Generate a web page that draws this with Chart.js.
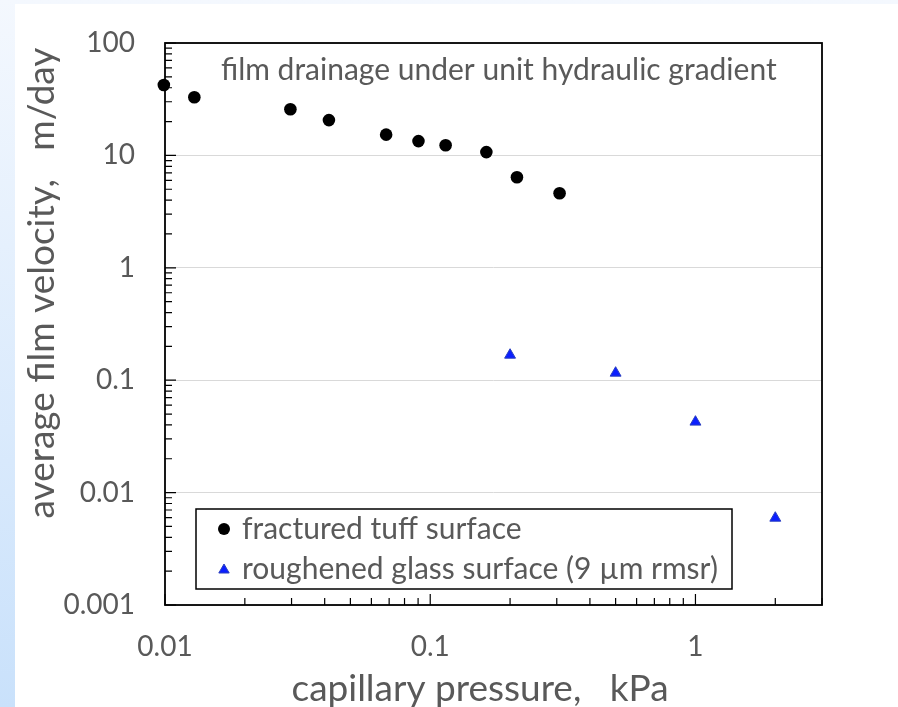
<!DOCTYPE html>
<html>
<head>
<meta charset="utf-8">
<script src="https://cdn.jsdelivr.net/npm/chart.js@4.4.1/dist/chart.umd.min.js"></script>
<style>
  html, body { margin: 0; padding: 0; }
  body {
    width: 898px; height: 707px; position: relative; overflow: hidden;
    background: linear-gradient(to bottom, #f4f8fe 0%, #c9e1fb 100%);
  }
  #panel { position: absolute; left: 15px; top: 4px; right: 0; bottom: 0; background: #fff; }
  #chart { position: absolute; left: 0; top: 0; }
</style>
</head>
<body>
<div id="panel"></div>
<canvas id="chart" width="898" height="707"></canvas>
<script>
// fractured tuff surface: capillary pressure (kPa) vs average film velocity (m/day)
const tuffPressure = [0.0099, 0.0129, 0.0297, 0.0415, 0.0682, 0.0903, 0.1143, 0.1628, 0.2123, 0.3074];
const tuffVelocity = [42.3, 32.9, 25.7, 20.6, 15.3, 13.4, 12.3, 10.7, 6.40, 4.61];

// roughened glass surface (9 µm rmsr)
const glassPressure = [0.2, 0.5, 1, 2];
const glassVelocity = [0.1675, 0.1159, 0.0425, 0.00594];

const seriesNames = ["fractured tuff surface", "roughened glass surface (9 µm rmsr)"];

const xTicks = [0.01, 0.1, 1];
const xTickLabels = ["0.01", "0.1", "1"];
const yTicks = [0.001, 0.01, 0.1, 1, 10, 100];
const yTickLabels = ["0.001", "0.01", "0.1", "1", "10", "100"];

const xTitle = "capillary pressure,   kPa";
const yTitle = "average film velocity,   m/day";
const note = "film drainage under unit hydraulic gradient";

const FONT = "Lato, 'Open Sans', sans-serif";
const TEXT = "#595959";

// box round the plot plus inward log ticks on the left and bottom axes
const frameTicks = {
  id: "frameTicks",
  beforeDatasetsDraw(chart) {
    const { ctx, chartArea: a, scales } = chart;
    ctx.save();
    ctx.strokeStyle = "#000";
    ctx.lineWidth = 1.2;
    const logTicks = (scale, draw) => {
      const lo = Math.floor(Math.log10(scale.min));
      const hi = Math.ceil(Math.log10(scale.max));
      for (let d = lo; d <= hi; d++) {
        for (let k = 1; k <= 9; k++) {
          const v = k * Math.pow(10, d);
          if (v < scale.min * 0.999 || v > scale.max * 1.001) continue;
          draw(scale.getPixelForValue(v), k === 1 ? 11 : 7);
        }
      }
    };
    ctx.beginPath();
    logTicks(scales.y, (p, len) => { ctx.moveTo(a.left, p); ctx.lineTo(a.left + len, p); });
    logTicks(scales.x, (p, len) => { ctx.moveTo(p, a.bottom); ctx.lineTo(p, a.bottom - len); });
    ctx.stroke();
    ctx.lineWidth = 1.8;
    ctx.strokeRect(a.left, a.top, a.right - a.left, a.bottom - a.top);
    ctx.restore();
  }
};

// axis titles, the note at the top and the boxed legend
const labels = {
  id: "labels",
  afterDraw(chart) {
    const { ctx } = chart;
    ctx.save();
    ctx.fillStyle = TEXT;

    ctx.font = "37px " + FONT;
    ctx.textAlign = "center";
    ctx.textBaseline = "alphabetic";
    ctx.fillText(xTitle, 480, 701);

    ctx.save();
    ctx.translate(54, 283);
    ctx.rotate(-Math.PI / 2);
    ctx.fillText(yTitle, 0, 0);
    ctx.restore();

    ctx.font = "30px " + FONT;
    ctx.textAlign = "left";
    ctx.fillText(note, 221, 80);

    // legend
    ctx.strokeStyle = "#000";
    ctx.lineWidth = 1.5;
    ctx.fillStyle = "#fff";
    ctx.fillRect(196, 509, 536, 80);
    ctx.strokeRect(196, 509, 536, 80);
    const rows = [529, 569];
    chart.data.datasets.forEach((ds, i) => {
      ctx.fillStyle = ds.pointBackgroundColor;
      ctx.strokeStyle = ds.pointBorderColor;
      ctx.lineWidth = ds.pointBorderWidth;
      Chart.helpers.drawPoint(ctx, {
        pointStyle: ds.pointStyle, radius: 6, borderWidth: ds.pointBorderWidth
      }, 224, rows[i] + (ds.pointStyle === "triangle" ? 1 : 0));
      ctx.fillStyle = TEXT;
      ctx.font = "30px " + FONT;
      ctx.textBaseline = "middle";
      ctx.fillText(ds.label, 242, rows[i]);
    });
    ctx.restore();
  }
};

new Chart(document.getElementById("chart"), {
  type: "scatter",
  data: {
    datasets: [
      {
        label: seriesNames[0],
        data: tuffPressure.map((x, i) => ({ x, y: tuffVelocity[i] })),
        pointStyle: "circle",
        pointRadius: 6.3,
        pointBackgroundColor: "#000",
        pointBorderColor: "#000",
        pointBorderWidth: 0,
        clip: false
      },
      {
        label: seriesNames[1],
        data: glassPressure.map((x, i) => ({ x, y: glassVelocity[i] })),
        pointStyle: "triangle",
        pointRadius: 6.3,
        pointBackgroundColor: "#0b1fff",
        pointBorderColor: "#2a3fbf",
        pointBorderWidth: 1,
        clip: false
      }
    ]
  },
  options: {
    responsive: false,
    animation: false,
    layout: { padding: { left: 0, top: 43, right: 76, bottom: 0 } },
    plugins: { legend: { display: false }, tooltip: { enabled: false } },
    scales: {
      x: {
        type: "logarithmic",
        min: 0.01,
        max: 3,
        afterBuildTicks: s => { s.ticks = xTicks.map(v => ({ value: v })); },
        afterFit: s => { s.height = 102; s.paddingLeft = 0; s.paddingRight = 0; },
        grid: { display: false, drawTicks: false },
        border: { display: false },
        ticks: {
          callback: (v, i) => xTickLabels[i],
          color: TEXT,
          font: { family: FONT, size: 28 },
          padding: 25,
          maxRotation: 0,
          autoSkip: false
        }
      },
      y: {
        type: "logarithmic",
        min: 0.001,
        max: 100,
        afterBuildTicks: s => { s.ticks = yTicks.map(v => ({ value: v })); },
        // the top label may hang above the plot, so keep the plot box fixed
        afterFit: s => { s.width = 165; s.paddingTop = 0; s.paddingBottom = 0; },
        grid: { color: "#d9d9d9", lineWidth: 1, drawTicks: false },
        border: { display: false },
        ticks: {
          callback: (v, i) => yTickLabels[i],
          color: TEXT,
          font: { family: FONT, size: 28 },
          padding: 30,
          autoSkip: false
        }
      }
    }
  },
  plugins: [frameTicks, labels]
});
</script>
</body>
</html>
